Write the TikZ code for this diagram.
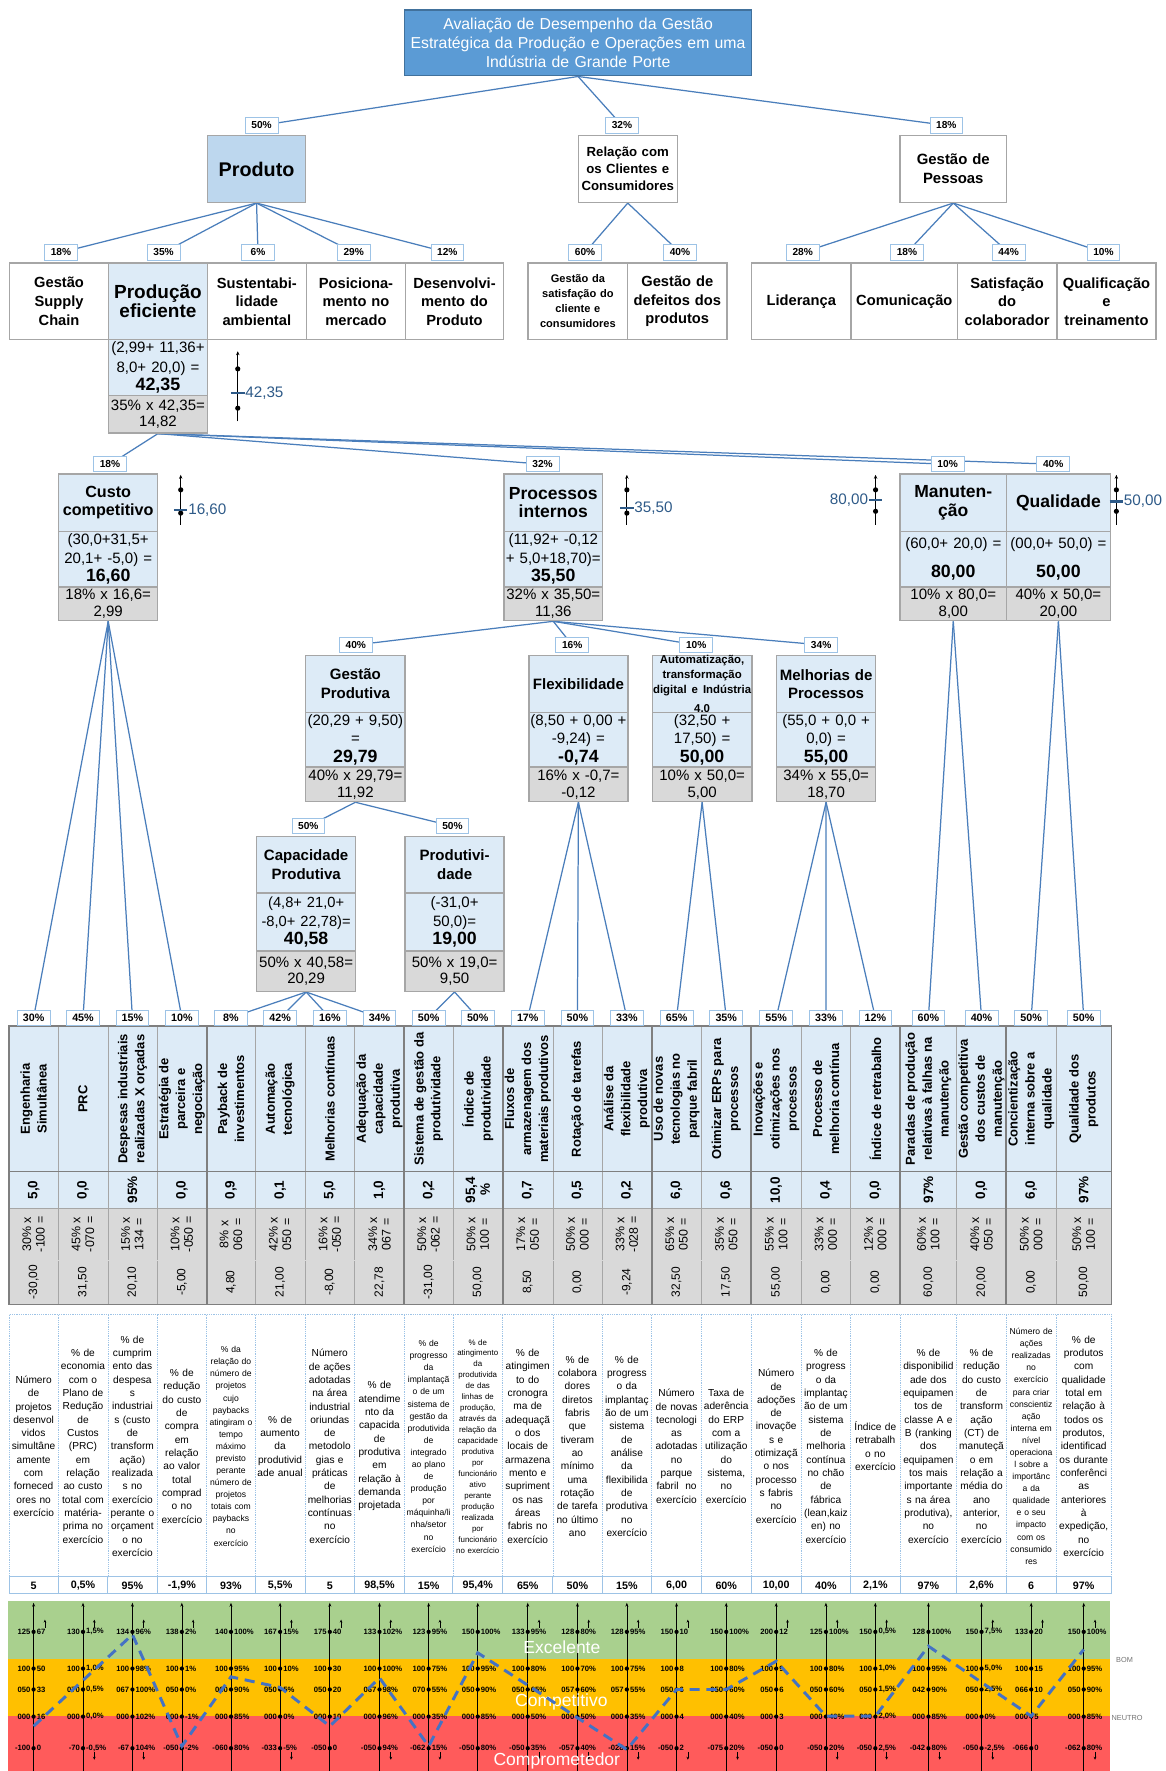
\documentclass[tikz,border=0pt]{standalone}
\usepackage{fontspec}
\setmainfont{Liberation Sans}
\usetikzlibrary{arrows.meta}

\definecolor{hdblue}{HTML}{5B9BD5}
\definecolor{hdedge}{HTML}{41719C}
\definecolor{midblue}{HTML}{BDD7EE}
\definecolor{paleblue}{HTML}{DDEBF7}
\definecolor{cellgray}{HTML}{D9D9D9}
\definecolor{edgegray}{HTML}{A6A6A6}
\definecolor{darkedge}{HTML}{7F7F7F}
\definecolor{wireblue}{HTML}{4A7EBB}
\definecolor{tagedge}{HTML}{9DC3E6}
\definecolor{gaugeblue}{HTML}{2E5A88}
\definecolor{zgreen}{HTML}{A9D08E}
\definecolor{zyellow}{HTML}{FFC000}
\definecolor{zred}{HTML}{FF5B5B}
\definecolor{trendblue}{HTML}{4472C4}

\newcommand\fsz[2]{\fontsize{#1}{#2}\selectfont}

\pgfdeclarelayer{paper}
\pgfdeclarelayer{wires}
\pgfsetlayers{paper,wires,main}

\tikzset{
  wire/.style={draw=wireblue, line width=1.1pt},
  tag/.style={draw=tagedge, line width=0.7pt, fill=white, inner sep=0pt,
    minimum width=29pt, minimum height=13.5pt, font=\bfseries\fsz{9}{10}},
  coltag/.style={tag, font=\bfseries\fsz{9.5}{10}},
  plainbox/.style={draw=edgegray, line width=1.3pt, fill=white, inner sep=0pt,
    align=center, anchor=north west, font=\bfseries\fsz{13}{16.4}},
  ktitle/.style={draw=edgegray, line width=1.3pt, fill=paleblue, inner sep=0pt,
    align=center, anchor=north west, font=\bfseries\fsz{13.3}{16.4}},
  kval/.style={draw=edgegray, line width=1.3pt, fill=paleblue, inner sep=0pt,
    align=center, anchor=north west, font=\fsz{13.3}{16.4}},
  kgray/.style={draw=edgegray, line width=1.3pt, fill=cellgray, inner sep=0pt,
    align=center, anchor=north west, font=\fsz{13.3}{14.8}},
  gaugeline/.style={black, line width=0.8pt, -{Stealth[length=3.5pt,width=3pt]}},
  gaugetick/.style={gaugeblue, line width=1.8pt},
  gaugetext/.style={text=gaugeblue, inner sep=0pt, font=\fsz{13.5}{14}},
  thead/.style={rotate=90, align=center, inner sep=0pt, font=\bfseries\fsz{11.5}{15}},
  tvalue/.style={rotate=90, align=center, inner sep=0pt, font=\bfseries\fsz{12}{13}},
  tform/.style={rotate=90, align=center, inner sep=0pt, font=\fsz{11}{12}},
  tres/.style={rotate=90, align=center, inner sep=0pt, font=\fsz{10.6}{12}},
  dval/.style={inner sep=0pt, font=\bfseries\fsz{9.5}{10}},
  dnorm/.style={text width=60pt, align=center, inner sep=0pt, font=\fsz{9}{11.8}},
  dsmall/.style={text width=60pt, align=center, inner sep=0pt, font=\fsz{7.6}{10.7}},
  dtiny/.style={text width=60pt, align=center, inner sep=0pt, font=\fsz{7}{9.7}},
  thinrule/.style={draw=edgegray, line width=0.6pt},
  midrule/.style={draw=darkedge, line width=0.9pt},
  faintrule/.style={draw=white!85!black, line width=0.5pt},
  thickrule/.style={draw=darkedge, line width=1.6pt},
  axis/.style={black, line width=0.6pt, -{Stealth[length=3.5pt,width=2.6pt]}},
  dirmark/.style={black, line width=0.6pt, -{Stealth[length=2.6pt,width=2.4pt]}},
  scl/.style={inner sep=0pt, font=\bfseries\fsz{6.8}{7}},
  zone/.style={text=white, inner sep=0pt, font=\fsz{15.5}{16}},
  side/.style={text=black!55, inner sep=0pt, font=\fsz{6.5}{7}},
  trend/.style={trendblue, line width=2.6pt, dash pattern=on 9pt off 6pt}
}

% indicator box: title, formula and weighted result stacked
\makeatletter
\newcommand\kpi[9]{%
  \def\kp@n{#1}\def\kp@x{#2}\def\kp@w{#3}\def\kp@c{#6}\def\kp@d{#7}%
  \node[ktitle, text width=#3pt, minimum height=#5-#4] (#1-t) at (#2,#4) {#8};
  \node[kval, text width=#3pt, minimum height=#6-#5] (#1-v) at (#2,#5) {#9};
  \kp@gray}
\newcommand\kp@gray[1]{%
  \node[kgray, text width=\kp@w pt, minimum height=\kp@d-\kp@c] (\kp@n-g) at (\kp@x,\kp@c) {#1};}
\makeatother

% thermometer style marker beside an indicator box
\newcommand\gaugebar[7]{%
  \draw[gaugeline] (#2,#4) -- (#2,#3);
  \fill (#2,#6) circle[radius=2.3pt];
  \fill (#2,#7) circle[radius=2.3pt];
  \draw[gaugetick] (#2-6,#5) -- (#2+6,#5);}

% one column of the indicator table
\newcommand\tcol[9]{%
  \pgfmathsetmacro\xc{(#2+#3)/2}
  \node[coltag] (c#1) at (\xc,901) {#4};
  \node[thead] (h#1) at (\xc,973) {#5};
  \node[tvalue] (v#1) at (\xc,1053.5) {#6};
  \node[tform] (f#1) at (\xc,1092.8) {#7};
  \node[tres] (r#1) at (\xc,1135.3) {#8};
  \node[dval] (d#1) at (\xc,1404) {#9};}
\newcommand\dcol[4]{\node[#3] (t#1) at (#2,1280.5) {#4};}

% rating scale of one indicator
\newcommand\axl[7]{%
  \draw[axis] (#2,1568) -- (#2,1419);
  \foreach \yy in {1444.8,1477.3,1495.8,1519.8,1547.8} {\fill (#2,\yy) circle[radius=1.9pt];}
  \node[scl, anchor=east] (la#1) at (#2-2.6,1444.8) {#3};
  \node[scl, anchor=east] (lb#1) at (#2-2.6,1477.3) {#4};
  \node[scl, anchor=east] (lc#1) at (#2-2.6,1495.8) {#5};
  \node[scl, anchor=east] (ld#1) at (#2-2.6,1519.8) {#6};
  \node[scl, anchor=east] (le#1) at (#2-2.6,1547.8) {#7};}
\newcommand\axr[7]{%
  \node[scl, anchor=west] (ra#1) at (#2+2.6,1444.8) {#3};
  \node[scl, anchor=west] (rb#1) at (#2+2.6,1477.3) {#4};
  \node[scl, anchor=west] (rc#1) at (#2+2.6,1495.8) {#5};
  \node[scl, anchor=west] (rd#1) at (#2+2.6,1519.8) {#6};
  \node[scl, anchor=west] (re#1) at (#2+2.6,1547.8) {#7};}
\newcommand\upmark[1]{\draw[dirmark] (#1+10,1441) -- (#1+10,1434);}
\newcommand\dnmark[1]{\draw[dirmark] (#1+10,1551) -- (#1+10,1558);}

\begin{document}
\begin{tikzpicture}[x=1pt,y=-1pt]
\begin{pgfonlayer}{paper}
\fill[white] (0,0) rectangle (1032,1568);
\end{pgfonlayer}
\useasboundingbox (0,0) rectangle (1032,1568);

% ---------- top of the hierarchy ----------
\node[draw=hdedge, line width=1.3pt, fill=hdblue, text=white, inner sep=0pt,
  text width=307.1pt, minimum height=58.4, align=center, anchor=north west,
  font=\fsz{14}{17}] (top) at (357.6,8)
  {Avaliação de Desempenho da Gestão\\Estratégica da Produção e Operações em uma\\Indústria de Grande Porte};

\node[plainbox, text width=87pt, minimum height=59, fill=midblue, font=\bfseries\fsz{17.5}{20}] (produto) at (183,119.5) {Produto};
\node[plainbox, text width=87.7pt, minimum height=59, font=\bfseries\fsz{11.7}{15}] (rel) at (511.3,119.5) {Relação com\\os Clientes e\\Consumidores};
\node[plainbox, text width=94.1pt, minimum height=59, font=\bfseries\fsz{13.2}{16.8}] (pes) at (796.3,119.5) {Gestão de\\Pessoas};

\node[tag] (l1a) at (231.6,111) {50\%};
\node[tag] (l1b) at (550.7,111) {32\%};
\node[tag] (l1c) at (837.8,111) {18\%};

% ---------- second level ----------
\node[plainbox, text width=87.5pt, minimum height=67.8] (gsc) at (7.9,232.2) {Gestão\\Supply\\Chain};
\kpi{pe}{95.4}{87.6}{232.2}{300}{349.6}{382.6}{\fsz{16.8}{22}Produção\\eficiente}{\fsz{13.3}{17.7}(2,99+ 11,36+\\8,0+ 20,0) =\\{\bfseries\fsz{15.8}{16}42,35}}{\fsz{13.3}{16.8}35\% x 42,35=\\14,82}
\node[plainbox, text width=87.5pt, minimum height=67.8] (sa) at (183,232.2) {Sustentabi-\\lidade\\ambiental};
\node[plainbox, text width=88pt, minimum height=67.8] (pm) at (270.5,232.2) {Posiciona-\\mento no\\mercado};
\node[plainbox, text width=86.5pt, minimum height=67.8] (dp) at (358.5,232.2) {Desenvolvi-\\mento do\\Produto};
\node[plainbox, text width=88pt, minimum height=67.8, font=\bfseries\fsz{9.8}{13.3}] (gsat) at (467,232.2) {Gestão da\\satisfação do\\cliente e\\consumidores};
\node[plainbox, text width=88pt, minimum height=67.8] (gdef) at (555,232.2) {Gestão de\\defeitos dos\\produtos};
\node[plainbox, text width=88.5pt, minimum height=67.8] (lid) at (664.5,232.2) {Liderança};
\node[plainbox, text width=94pt, minimum height=67.8] (com) at (753,232.2) {Comunicação};
\node[plainbox, text width=88pt, minimum height=67.8] (sat) at (847,232.2) {Satisfação\\do\\colaborador};
\node[plainbox, text width=88pt, minimum height=67.8] (qua) at (935,232.2) {Qualificação\\e\\treinamento};

\node[tag] (l2a) at (54,223.5) {18\%};
\node[tag] (l2b) at (144.8,223.5) {35\%};
\node[tag] (l2c) at (228.4,223.5) {6\%};
\node[tag] (l2d) at (313.2,223.5) {29\%};
\node[tag] (l2e) at (396,223.5) {12\%};
\node[tag] (l2f) at (518,223.5) {60\%};
\node[tag] (l2g) at (602,223.5) {40\%};
\node[tag] (l2h) at (710.7,223.5) {28\%};
\node[tag] (l2i) at (803,223.5) {18\%};
\node[tag] (l2j) at (893,223.5) {44\%};
\node[tag] (l2k) at (977,223.5) {10\%};

\gaugebar{g1}{210.5}{311}{373}{348}{326.6}{361.4}
\node[gaugetext, anchor=west] (g1) at (217,348) {42,35};

% ---------- third level ----------
\kpi{cc}{51.3}{87.7}{419}{469.7}{519}{548.8}{\fsz{14.3}{18.3}Custo\\competitivo}{(30,0+31,5+\\20,1+ -5,0) =\\{\bfseries\fsz{15.7}{16}16,60}}{18\% x 16,6=\\2,99}
\kpi{pi}{445.4}{87.6}{419}{469.7}{519}{548.8}{\fsz{15.5}{18.3}Processos\\internos}{(11,92+ -0,12\\+ 5,0+18,70)=\\{\bfseries\fsz{15.7}{16}35,50}}{32\% x 35,50=\\11,36}
\kpi{ma}{796.3}{94.1}{419}{469.7}{519}{548.8}{\fsz{15.5}{18.3}Manuten-\\ção}{(60,0+ 20,0) =\\[9pt]{\bfseries\fsz{15.7}{16}80,00}}{10\% x 80,0=\\8,00}
\kpi{qu}{890.4}{92.1}{419}{469.7}{519}{548.8}{\fsz{15.5}{18.3}Qualidade}{(00,0+ 50,0) =\\[9pt]{\bfseries\fsz{15.7}{16}50,00}}{40\% x 50,0=\\20,00}

\node[tag] (l3a) at (97.4,411) {18\%};
\node[tag] (l3b) at (480.4,411) {32\%};
\node[tag] (l3c) at (839,411) {10\%};
\node[tag] (l3d) at (932.5,411) {40\%};

\gaugebar{g2}{160}{420.4}{464.7}{451.4}{433.7}{454.3}
\node[gaugetext, anchor=west] (g2) at (166.5,451.4) {16,60};
\gaugebar{g3}{555}{420.4}{464.7}{450}{433.7}{454.3}
\node[gaugetext, anchor=west] (g3) at (561.5,450) {35,50};
\gaugebar{g4}{775.2}{420.4}{464.7}{442.6}{433.7}{452.7}
\node[gaugetext, anchor=east] (g4) at (768.7,442.6) {80,00};
\gaugebar{g5}{988.4}{420.4}{464.7}{444}{433.7}{452.7}
\node[gaugetext, anchor=west] (g5) at (994.9,444) {50,00};

% ---------- fourth level ----------
\kpi{gp}{270}{88}{579.7}{630}{678.6}{709}{Gestão\\Produtiva}{(20,29 + 9,50)\\=\\{\bfseries\fsz{15.7}{16}29,79}}{40\% x 29,79=\\11,92}
\kpi{fx}{467.5}{87.9}{579.7}{630}{678.6}{709}{Flexibilidade}{(8,50 + 0,00 +\\-9,24) =\\{\bfseries\fsz{15.7}{16}-0,74}}{16\% x -0,7=\\-0,12}
\kpi{au}{577}{88}{579.7}{630}{678.6}{709}{\fsz{10.1}{13.3}Automatização,\\transformação\\digital e Indústria\\4,0}{(32,50 +\\17,50) =\\{\bfseries\fsz{15.7}{16}50,00}}{10\% x 50,0=\\5,00}
\kpi{mp}{687}{87.5}{579.7}{630}{678.6}{709}{Melhorias de\\Processos}{(55,0 + 0,0 +\\0,0) =\\{\bfseries\fsz{15.7}{16}55,00}}{34\% x 55,0=\\18,70}

\node[tag] (l4a) at (315,571) {40\%};
\node[tag] (l4b) at (506.6,571) {16\%};
\node[tag] (l4c) at (616.4,571) {10\%};
\node[tag] (l4d) at (727,571) {34\%};

% ---------- fifth level ----------
\kpi{cp}{226.6}{87.6}{740}{790}{841.5}{877}{Capacidade\\Produtiva}{\fsz{13}{16.5}(4,8+ 21,0+\\-8,0+ 22,78)=\\{\bfseries\fsz{15.7}{16}40,58}}{\fsz{13.3}{17.5}50\% x 40,58=\\20,29}
\kpi{pr}{358}{87.7}{740}{790}{841.5}{877}{Produtivi-\\dade}{\fsz{13.3}{16.5}(-31,0+\\50,0)=\\{\bfseries\fsz{15.7}{16}19,00}}{\fsz{13.3}{17.5}50\% x 19,0=\\9,50}

\node[tag] (l5a) at (273,731.5) {50\%};
\node[tag] (l5b) at (400.6,731.5) {50\%};

% ---------- indicator table ----------
\fill[paleblue] (8,908.7) rectangle (984,1070);
\fill[cellgray] (8,1070) rectangle (984,1155);
\foreach \e in {51.5,95.5,139,226,270,314,401,489.5,533,621,709.5,753,847,935}
  {\draw[thinrule] (\e,908.7) -- (\e,1155);}
\draw[midrule] (8,1037) -- (984,1037);
\draw[thinrule] (8,1070) -- (984,1070);
\draw[faintrule] (8,1115.6) -- (984,1115.6);
\foreach \e in {183,358,445,577,665,797,891}
  {\draw[thickrule] (\e,908.7) -- (\e,1155);}
\draw[thickrule] (8,908.7) rectangle (984,1155);

% description table
\draw[tagedge, line width=0.6pt, densely dotted] (8,1164) rectangle (984,1396);
\foreach \e in {51.5,95.5,139,183,226,270,314,358,401,445,489.5,533,577,621,665,709.5,753,797,847,891,935}
  {\draw[tagedge, line width=0.6pt, densely dotted] (\e,1164) -- (\e,1396);
   \draw[tagedge, line width=0.8pt] (\e,1396) -- (\e,1411);}
\draw[tagedge, line width=0.8pt] (8,1396) rectangle (984,1411);

\tcol{1}{8}{51.5}{30\%}{Engenharia\\Simultânea}{5,0}{30\% x\\-100 =}{-30,00}{5}
\tcol{2}{51.5}{95.5}{45\%}{PRC}{0,0}{45\% x\\-070 =}{31,50}{0,5\%}
\tcol{3}{95.5}{139}{15\%}{Despesas industriais\\realizadas X orçadas}{95\%}{15\% x\\134 =}{20,10}{95\%}
\tcol{4}{139}{183}{10\%}{Estratégia de\\parceira e\\negociação}{0,0}{10\% x\\-050 =}{-5,00}{-1,9\%}
\tcol{5}{183}{226}{8\%}{Payback de\\investimentos}{0,9}{8\% x\\060 =}{4,80}{93\%}
\tcol{6}{226}{270}{42\%}{Automação\\tecnológica}{0,1}{42\% x\\050 =}{21,00}{5,5\%}
\tcol{7}{270}{314}{16\%}{Melhorias contínuas}{5,0}{16\% x\\-050 =}{-8,00}{5}
\tcol{8}{314}{358}{34\%}{Adequação da\\capacidade\\produtiva}{1,0}{34\% x\\067 =}{22,78}{98,5\%}
\tcol{9}{358}{401}{50\%}{Sistema de gestão da\\produtividade}{0,2}{50\% x\\-062 =}{-31,00}{15\%}
\tcol{10}{401}{445}{50\%}{Índice de\\produtividade}{95,4\\\%}{50\% x\\100 =}{50,00}{95,4\%}
\tcol{11}{445}{489.5}{17\%}{Fluxos de\\armazenagem dos\\materiais produtivos}{0,7}{17\% x\\050 =}{8,50}{65\%}
\tcol{12}{489.5}{533}{50\%}{Rotação de tarefas}{0,5}{50\% x\\000 =}{0,00}{50\%}
\tcol{13}{533}{577}{33\%}{Análise da\\flexibilidade\\produtiva}{0,2}{33\% x\\-028 =}{-9,24}{15\%}
\tcol{14}{577}{621}{65\%}{Uso de novas\\tecnologias no\\parque fabril}{6,0}{65\% x\\050 =}{32,50}{6,00}
\tcol{15}{621}{665}{35\%}{Otimizar ERPs para\\processos}{0,6}{35\% x\\050 =}{17,50}{60\%}
\tcol{16}{665}{709.5}{55\%}{Inovações e\\otimizações nos\\processos}{10,0}{55\% x\\100 =}{55,00}{10,00}
\tcol{17}{709.5}{753}{33\%}{Processo de\\melhoria contínua}{0,4}{33\% x\\000 =}{0,00}{40\%}
\tcol{18}{753}{797}{12\%}{Índice de retrabalho}{0,0}{12\% x\\000 =}{0,00}{2,1\%}
\tcol{19}{797}{847}{60\%}{Paradas de produção\\relativas à falhas na\\manutenção}{97\%}{60\% x\\100 =}{60,00}{97\%}
\tcol{20}{847}{891}{40\%}{Gestão competitiva\\dos custos de\\manutenção}{0,0}{40\% x\\050 =}{20,00}{2,6\%}
\tcol{21}{891}{935}{50\%}{Concientização\\interna sobre a\\qualidade}{6,0}{50\% x\\000 =}{0,00}{6}
\tcol{22}{935}{984}{50\%}{Qualidade dos\\produtos}{97\%}{50\% x\\100 =}{50,00}{97\%}

\dcol{1}{29.75}{dnorm}{Número\\de\\projetos\\desenvol\\vidos\\simultâne\\amente\\com\\forneced\\ores no\\exercício}
\dcol{2}{73.5}{dnorm}{\% de\\economia\\com o\\Plano de\\Redução\\de\\Custos\\(PRC)\\em\\relação\\ao custo\\total com\\matéria-\\prima no\\exercício}
\dcol{3}{117.25}{dnorm}{\% de\\cumprim\\ento das\\despesa\\s\\industriai\\s (custo\\de\\transform\\ação)\\realizada\\s no\\exercício\\perante o\\orçament\\o no\\exercício}
\dcol{4}{161}{dnorm}{\% de\\redução\\do custo\\de\\compra\\em\\relação\\ao valor\\total\\comprad\\o no\\exercício}
\dcol{5}{204.5}{dsmall}{\% da\\relação do\\número de\\projetos\\cujo\\paybacks\\atingiram o\\tempo\\máximo\\previsto\\perante\\número de\\projetos\\totais com\\paybacks\\no\\exercício}
\dcol{6}{248}{dnorm}{\% de\\aumento\\da\\produtivid\\ade anual}
\dcol{7}{292}{dnorm}{Número\\de ações\\adotadas\\na área\\industrial\\oriundas\\de\\metodolo\\gias e\\práticas\\de\\melhorias\\contínuas\\no\\exercício}
\dcol{8}{336}{dnorm}{\% de\\atendime\\nto da\\capacida\\de\\produtiva\\em\\relação à\\demanda\\projetada}
\dcol{9}{379.5}{dsmall}{\% de\\progresso\\da\\implantaçã\\o de um\\sistema de\\gestão da\\produtivida\\de\\integrado\\ao plano\\de\\produção\\por\\máquinha/li\\nha/setor\\no\\exercício}
\dcol{10}{423}{dtiny}{\% de\\atingimento\\da\\produtivida\\de das\\linhas de\\produção,\\através da\\relação da\\capacidade\\produtiva\\por\\funcionário\\ativo\\perante\\produção\\realizada\\por\\funcionário\\no exercício}
\dcol{11}{467.25}{dnorm}{\% de\\atingimen\\to do\\cronogra\\ma de\\adequaçã\\o dos\\locais de\\armazena\\mento e\\supriment\\os nas\\áreas\\fabris no\\exercício}
\dcol{12}{511.25}{dnorm}{\% de\\colabora\\dores\\diretos\\fabris\\que\\tiveram\\ao\\mínimo\\uma\\rotação\\de tarefa\\no último\\ano}
\dcol{13}{555}{dnorm}{\% de\\progress\\o da\\implantaç\\ão de um\\sistema\\de\\análise\\da\\flexibilida\\de\\produtiva\\no\\exercício}
\dcol{14}{599}{dnorm}{Número\\de novas\\tecnologi\\as\\adotadas\\no\\parque\\fabril~ no\\exercício}
\dcol{15}{643}{dnorm}{Taxa de\\aderência\\do ERP\\com a\\utilização\\do\\sistema,\\no\\exercício}
\dcol{16}{687.25}{dnorm}{Número\\de\\adoções\\de\\inovaçõe\\s e\\otimizaçã\\o nos\\processo\\s fabris\\no\\exercício}
\dcol{17}{731.25}{dnorm}{\% de\\progress\\o da\\implantaç\\ão de um\\sistema\\de\\melhoria\\contínua\\no chão\\de\\fábrica\\(lean,kaiz\\en) no\\exercício}
\dcol{18}{775}{dnorm}{Índice de\\retrabalh\\o no\\exercício}
\dcol{19}{822}{dnorm}{\% de\\disponibilid\\ade dos\\equipamen\\tos de\\classe A e\\B (ranking\\dos\\equipamen\\tos mais\\importante\\s na área\\produtiva),\\no\\exercício}
\dcol{20}{869}{dnorm}{\% de\\redução\\do custo\\de\\transform\\ação\\(CT) de\\manuteçã\\o em\\relação a\\média do\\ano\\anterior,\\no\\exercício}
\dcol{21}{913}{dsmall}{Número de\\ações\\realizadas\\no\\exercício\\para criar\\conscientiz\\ação\\interna em\\nível\\operaciona\\l sobre a\\importânc\\a da\\qualidade\\e o seu\\impacto\\com os\\consumido\\res}
\dcol{22}{959.5}{dnorm}{\% de\\produtos\\com\\qualidade\\total em\\relação à\\todos os\\produtos,\\identificad\\os durante\\conferênci\\as\\anteriores\\à\\expedição,\\no\\exercício}

% ---------- rating bands ----------
\fill[zgreen] (7.5,1417.7) rectangle (983,1468.4);
\fill[zyellow] (7.5,1468.4) rectangle (983,1519.4);
\fill[zred] (7.5,1519.4) rectangle (983,1568);

\axl{1}{29.75}{125}{100}{050}{000}{-100}
\axr{1}{29.75}{67}{50}{33}{16}{0}
\axl{2}{73.5}{130}{100}{070}{000}{-70}
\axr{2}{73.5}{1,5\%}{1,0\%}{0,5\%}{0,0\%}{-0,5\%}
\axl{3}{117.25}{134}{100}{067}{000}{-67}
\axr{3}{117.25}{96\%}{98\%}{100\%}{102\%}{104\%}
\axl{4}{161}{138}{100}{050}{000}{-050}
\axr{4}{161}{2\%}{1\%}{0\%}{-1\%}{-2\%}
\axl{5}{204.5}{140}{100}{060}{000}{-060}
\axr{5}{204.5}{100\%}{95\%}{90\%}{85\%}{80\%}
\axl{6}{248}{167}{100}{050}{000}{-033}
\axr{6}{248}{15\%}{10\%}{5\%}{0\%}{-5\%}
\axl{7}{292}{175}{100}{050}{000}{-050}
\axr{7}{292}{40}{30}{20}{10}{0}
\axl{8}{336}{133}{100}{067}{000}{-050}
\axr{8}{336}{102\%}{100\%}{98\%}{96\%}{94\%}
\axl{9}{379.5}{123}{100}{070}{000}{-062}
\axr{9}{379.5}{95\%}{75\%}{55\%}{35\%}{15\%}
\axl{10}{423}{150}{100}{050}{000}{-050}
\axr{10}{423}{100\%}{95\%}{90\%}{85\%}{80\%}
\axl{11}{467.25}{133}{100}{050}{000}{-050}
\axr{11}{467.25}{95\%}{80\%}{65\%}{50\%}{35\%}
\axl{12}{511.25}{128}{100}{057}{000}{-057}
\axr{12}{511.25}{80\%}{70\%}{60\%}{50\%}{40\%}
\axl{13}{555}{128}{100}{057}{000}{-028}
\axr{13}{555}{95\%}{75\%}{55\%}{35\%}{15\%}
\axl{14}{599}{150}{100}{050}{000}{-050}
\axr{14}{599}{10}{8}{6}{4}{2}
\axl{15}{643}{150}{100}{050}{000}{-075}
\axr{15}{643}{100\%}{80\%}{60\%}{40\%}{20\%}
\axl{16}{687.25}{200}{100}{050}{000}{-050}
\axr{16}{687.25}{12}{9}{6}{3}{0}
\axl{17}{731.25}{125}{100}{050}{000}{-050}
\axr{17}{731.25}{100\%}{80\%}{60\%}{40\%}{20\%}
\axl{18}{775}{150}{100}{050}{000}{-050}
\axr{18}{775}{0,5\%}{1,0\%}{1,5\%}{2,0\%}{2,5\%}
\axl{19}{822}{128}{100}{042}{000}{-042}
\axr{19}{822}{100\%}{95\%}{90\%}{85\%}{80\%}
\axl{20}{869}{150}{100}{050}{000}{-050}
\axr{20}{869}{7,5\%}{5,0\%}{2,5\%}{0\%}{-2,5\%}
\axl{21}{913}{133}{100}{066}{000}{-066}
\axr{21}{913}{20}{15}{10}{5}{0}
\axl{22}{959.5}{150}{100}{050}{000}{-062}
\axr{22}{959.5}{100\%}{95\%}{90\%}{85\%}{80\%}

\upmark{29.75}
\upmark{73.5}\dnmark{73.5}
\upmark{117.25}\dnmark{117.25}
\upmark{161}
\upmark{248}\dnmark{248}
\upmark{292}
\upmark{336}\dnmark{336}
\upmark{379.5}\dnmark{379.5}
\upmark{467.25}\dnmark{467.25}
\upmark{511.25}\dnmark{511.25}
\upmark{555}\dnmark{555}
\upmark{599}\dnmark{599}
\dnmark{643}
\upmark{687.25}
\upmark{731.25}\dnmark{731.25}
\upmark{775}\dnmark{775}
\dnmark{822}
\upmark{869}\dnmark{869}
\upmark{913}
\upmark{959.5}\dnmark{959.5}

\node[zone] (zexc) at (497.5,1458) {Excelente};
\node[zone] (zcom) at (497,1507) {Competitivo};
\node[zone] (zcpr) at (493,1559.5) {Comprometedor};
\node[side, anchor=west] (sbom) at (988,1470) {BOM};
\node[side, anchor=west] (sneu) at (984,1521) {NEUTRO};

% weighted score of each indicator
\coordinate (s1) at (29.75,1528.3);
\coordinate (s2) at (73.5,1487.7);
\coordinate (s3) at (117.25,1447.2);
\coordinate (s4) at (161,1546);
\coordinate (s5) at (204.5,1484.6);
\coordinate (s6) at (248,1494);
\coordinate (s7) at (292,1528.3);
\coordinate (s8) at (336,1485.5);
\coordinate (s9) at (379.5,1546);
\coordinate (s10) at (423,1463.4);
\coordinate (s11) at (467.25,1492);
\coordinate (s12) at (511.25,1520.9);
\coordinate (s13) at (555,1549);
\coordinate (s14) at (599,1495.8);
\coordinate (s15) at (643,1495.8);
\coordinate (s16) at (687.25,1470.8);
\coordinate (s17) at (731.25,1519.4);
\coordinate (s18) at (775,1519.4);
\coordinate (s19) at (822,1457.5);
\coordinate (s20) at (869,1489.5);
\coordinate (s21) at (913,1519.4);
\coordinate (s22) at (959.5,1460.4);
\draw[trend] (s1) -- (s2) -- (s3) -- (s4) -- (s5) -- (s6) -- (s7) -- (s8) -- (s9) -- (s10) -- (s11)
  -- (s12) -- (s13) -- (s14) -- (s15) -- (s16) -- (s17) -- (s18) -- (s19) -- (s20) -- (s21) -- (s22);

% ---------- connectors ----------
\begin{pgfonlayer}{wires}
\foreach \t in {l1a,l1b,l1c} {\draw[wire] (top.south) -- (\t.center);}
\foreach \t in {l2a,l2b,l2c,l2d,l2e} {\draw[wire] (produto.south) -- (\t.center);}
\foreach \t in {l2f,l2g} {\draw[wire] (rel.south) -- (\t.center);}
\foreach \t in {l2h,l2i,l2j,l2k} {\draw[wire] (pes.south) -- (\t.center);}
\foreach \t in {l3a,l3b,l3c,l3d} {\draw[wire] (pe-g.south) -- (\t.center);}
\foreach \t in {l4a,l4b,l4c,l4d} {\draw[wire] (pi-g.south) -- (\t.center);}
\foreach \t in {l5a,l5b} {\draw[wire] (gp-g.south) -- (\t.center);}
\foreach \t in {c1,c2,c3,c4} {\draw[wire] (cc-g.south) -- (\t.center);}
\foreach \t in {c5,c6,c7,c8} {\draw[wire] (cp-g.south) -- (\t.center);}
\foreach \t in {c9,c10} {\draw[wire] (pr-g.south) -- (\t.center);}
\foreach \t in {c11,c12,c13} {\draw[wire] (fx-g.south) -- (\t.center);}
\foreach \t in {c14,c15} {\draw[wire] (au-g.south) -- (\t.center);}
\foreach \t in {c16,c17,c18} {\draw[wire] (mp-g.south) -- (\t.center);}
\foreach \t in {c19,c20} {\draw[wire] (ma-g.south) -- (\t.center);}
\foreach \t in {c21,c22} {\draw[wire] (qu-g.south) -- (\t.center);}
\end{pgfonlayer}
\end{tikzpicture}
\end{document}
